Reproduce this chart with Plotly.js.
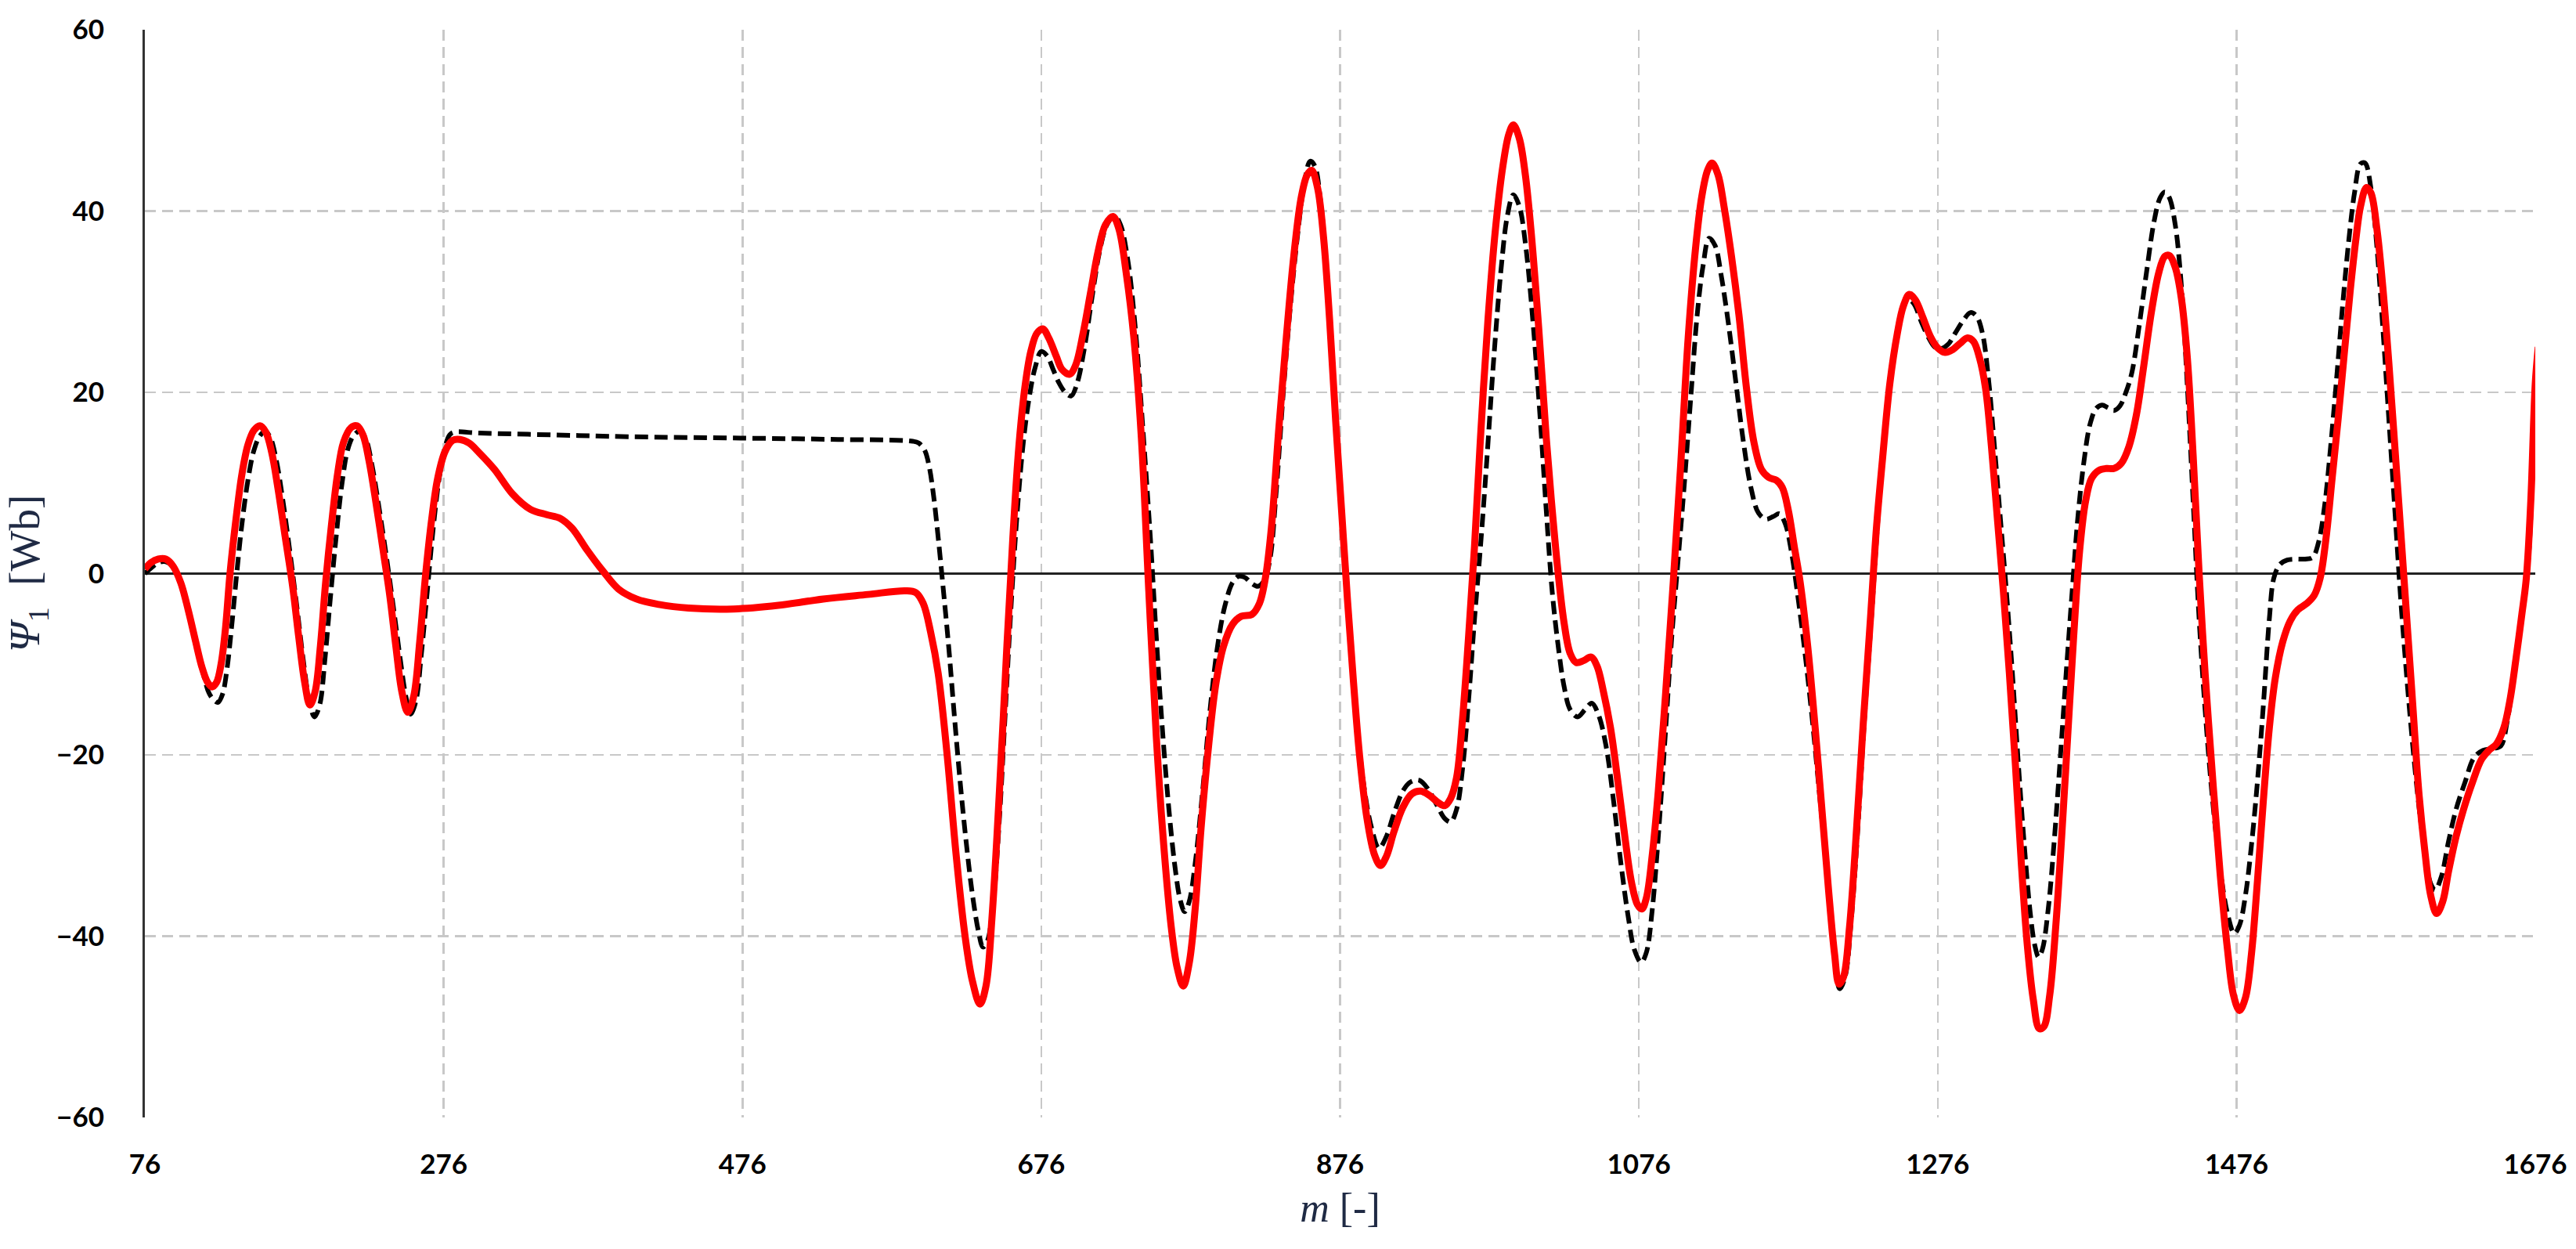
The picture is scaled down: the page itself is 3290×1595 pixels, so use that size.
<!DOCTYPE html>
<html>
<head>
<meta charset="utf-8">
<script src="https://cdn.plot.ly/plotly-3.0.1.min.js"></script>
<style>
  html, body { margin: 0; padding: 0; background: #fff; }
  #chart { width: 3290px; height: 1595px; }
</style>
</head>
<body>
<div id="chart"></div>
<script>
// red solid curve: sample index m and flux psi [Wb]
const mRed = [76, 80, 85, 90, 95, 100, 105, 110, 114, 118, 121, 124, 127, 130, 133, 137, 141, 145, 149, 153,
  157, 161, 165, 170, 175, 179, 183, 186.5, 190, 193.5, 197, 201, 205, 209, 214, 218, 222, 226, 231, 236,
  240, 244, 248, 252, 256, 260, 264, 268, 272, 277, 282, 287, 293, 300, 310, 322, 334, 345, 354, 362,
  372, 383, 393, 405, 420, 440, 470, 500, 530, 560, 585, 592, 597, 602, 607, 613, 619, 625, 630, 635,
  639, 643, 648, 653, 657, 661, 665, 669, 673, 677, 681, 686, 690, 695, 699, 704, 709, 714, 719, 724,
  728, 733, 738, 743, 748, 753, 758, 763, 767, 771, 775, 779, 783, 788, 793, 798, 804, 810, 817, 822,
  826, 830, 835, 840, 845, 850, 854, 857, 861, 865, 869, 873, 877, 881, 885, 889, 894, 899, 903, 907,
  912, 918, 924, 930, 936, 942, 946, 950, 954, 958, 962, 966, 970, 975, 980, 985, 989, 992, 996, 1000,
  1004, 1009, 1014, 1018, 1022, 1026, 1030, 1034, 1039, 1044, 1048, 1052, 1057, 1062, 1067, 1071, 1075, 1078, 1081, 1085,
  1089, 1094, 1099, 1104, 1109, 1114, 1118, 1122, 1125, 1129, 1133, 1138, 1143, 1148, 1153, 1158, 1163, 1168, 1172, 1176,
  1180, 1184, 1189, 1194, 1199, 1203, 1207, 1210, 1213, 1217, 1221, 1226, 1231, 1235, 1239, 1244, 1249, 1253, 1257, 1261,
  1266, 1271, 1276, 1281, 1286, 1291, 1296, 1300, 1304, 1308, 1312, 1316, 1320, 1324, 1328, 1332, 1336, 1340, 1344, 1347,
  1351, 1355, 1359, 1363, 1367, 1371, 1375, 1379, 1384, 1389, 1394, 1399, 1404, 1409, 1414, 1419, 1424, 1428, 1431, 1435,
  1439, 1443, 1447, 1451, 1455, 1460, 1465, 1470, 1474, 1478, 1482, 1486, 1490, 1494, 1498, 1502, 1507, 1512, 1517, 1523,
  1528, 1532, 1536, 1540, 1544, 1548, 1552, 1556, 1559, 1563, 1566, 1570, 1574, 1578, 1582, 1586, 1590, 1594, 1598, 1602,
  1606, 1610, 1614, 1618, 1623, 1628, 1634, 1640, 1645, 1650, 1655, 1659, 1663, 1667, 1670, 1673, 1676, 1678];
const psiRed = [0.5, 1.2, 1.6, 1.6, 0.8, -1, -4, -7.5, -10.2, -12, -12.5, -12, -10, -6, 0, 6, 11, 14.2, 15.8, 16.3,
  15.6, 13.3, 9.5, 4, -1.5, -7, -12, -14.5, -13, -8, -1, 5.5, 11, 14.5, 16.1, 16.3, 15.3, 12.5, 7.5, 2,
  -2.5, -8, -13, -15.3, -13.5, -7.5, 0, 6, 10.5, 13.5, 14.7, 14.8, 14.4, 13.3, 11.5, 8.8, 7.1, 6.5, 6.1, 5.0,
  2.6, 0.2, -1.7, -2.8, -3.4, -3.8, -3.9, -3.5, -2.8, -2.3, -1.9, -2.1, -3.3, -6.5, -11, -20, -31, -40, -45, -47.5,
  -45.5, -38, -24, -8, 4, 14, 20.5, 24.5, 26.5, 27, 26, 24, 22.5, 22, 23, 26.5, 31, 35.5, 38.5, 39.4,
  38, 33, 26, 15, -2, -18, -30, -39, -43.5, -45.5, -43, -37, -28, -19, -12, -8, -5.6, -4.7, -4.5, -3.3,
  -0.5, 5, 16, 26, 35, 41.5, 44, 44.5, 42.5, 37, 28, 17, 7, -3, -12, -20, -27, -31, -32.2, -31.2,
  -28.5, -25.8, -24.3, -24, -24.5, -25.3, -25.6, -24.8, -22.5, -16, -7, 3, 15, 28, 38, 45, 48.5, 49.5, 48, 44,
  37.5, 27, 15, 7, 0, -5.5, -8.8, -9.8, -9.6, -9.2, -10.2, -12.8, -17, -23, -29.5, -34, -36.5, -37, -35.8, -31,
  -24, -13, -1, 12, 26, 36, 41.5, 44.5, 45.3, 44, 40.5, 35, 28.5, 20.5, 14.5, 11.5, 10.6, 10.3, 9.5, 7,
  3, -1, -8, -17, -27, -35, -42, -45.3, -44.5, -39, -30, -17, -5, 5, 12.5, 21, 26.5, 29.5, 30.8, 30.2,
  28.3, 26.2, 24.9, 24.4, 24.7, 25.4, 26, 25.6, 23.8, 20.5, 14, 6, -2, -11, -21, -32, -41, -47, -50.2, -50,
  -46.5, -39, -29, -18, -7, 2.5, 8, 10.5, 11.4, 11.6, 11.6, 12.2, 14, 17.5, 23, 28.8, 33.2, 35, 35.1, 33.8,
  30.5, 24, 13, 0, -11, -22.5, -33, -41.5, -46.5, -48.2, -46.8, -42, -34, -25, -17, -11.5, -7.5, -5.2, -4, -3.3,
  -2.4, -0.5, 4, 10.5, 17, 24, 31, 37, 40.5, 42.6, 42, 38, 31.5, 23.2, 14, 4.5, -5, -14.5, -24, -30.5,
  -35.5, -37.5, -36.2, -32.8, -29, -26, -23, -20.5, -19.5, -18.8, -17, -14, -9.5, -4.5, -0.5, 8, 21, 25];

// black dashed curve
const mBlack = [76, 80, 85, 90, 95, 100, 105, 110, 115, 119, 122.5, 125, 128, 131, 134, 137.5, 141, 145, 149, 153,
  156.5, 160, 164, 168, 173, 178, 182, 186, 189.5, 193, 196.5, 200, 204, 208, 212, 216, 220, 224, 228, 233,
  238, 243, 247, 251, 254, 257.5, 261, 265, 269, 273, 277, 280, 283, 300, 350, 400, 475, 540, 590, 594,
  598, 601, 604, 607, 610, 614, 618, 622, 626, 630, 634, 637, 640, 644, 648, 652, 656, 660, 664, 668,
  672, 676, 680, 684, 688, 692, 696, 700, 705, 710, 715, 720, 725, 729, 734, 739, 744, 749, 753, 757,
  762, 766, 769, 772, 775, 779, 784, 789, 794, 799, 804, 808, 812, 817, 821, 825, 829, 833, 838, 843,
  848, 852, 856, 859, 863, 867, 871, 875, 879, 883, 887, 892, 897, 902, 907, 912, 918, 923, 929, 935,
  941, 946, 950, 954, 958, 962, 966, 970, 974, 979, 984, 988, 992, 996, 1000, 1005, 1010, 1014, 1018, 1022,
  1026, 1030, 1035, 1040, 1044.5, 1049, 1054, 1059, 1064, 1069, 1073, 1077.5, 1081, 1085, 1089, 1094, 1098, 1102, 1106, 1111,
  1115, 1119, 1123, 1127, 1131, 1136, 1141, 1146, 1151, 1156, 1161, 1166, 1170, 1174, 1178, 1182, 1187, 1192, 1197, 1202,
  1206, 1210.5, 1214, 1218, 1222, 1227, 1232, 1236, 1241, 1246, 1251, 1256, 1260, 1265, 1270, 1274, 1278, 1283, 1288, 1293,
  1298, 1302, 1306, 1310, 1314, 1318, 1322, 1326, 1330, 1334, 1338, 1341, 1343.5, 1346, 1350, 1354, 1358, 1362, 1366, 1370,
  1374, 1378, 1382, 1386, 1390, 1394, 1398, 1402, 1406, 1411, 1416, 1421, 1425, 1428, 1431, 1435, 1439, 1443, 1447, 1451,
  1455, 1460, 1465, 1470, 1474.5, 1478, 1482, 1486, 1490, 1494, 1498, 1501, 1505, 1510, 1516, 1522, 1527, 1531, 1535, 1539,
  1543, 1547, 1551, 1555, 1559, 1562, 1566, 1570, 1574, 1578, 1582, 1586, 1590, 1594, 1598, 1602, 1606, 1609, 1613, 1618,
  1623, 1629, 1635, 1641, 1648, 1653, 1657, 1661, 1665, 1669, 1672, 1675, 1678];
const psiBlack = [0, 0.6, 1.2, 1.3, 0.7, -1.2, -4, -7.8, -11, -13.2, -14, -14.2, -13.3, -10.5, -6, 0, 5.5, 10.3, 13.6, 15.2,
  15.7, 15, 12.5, 8.5, 2.5, -4, -9.5, -14, -15.8, -14.5, -9.5, -3, 4, 10, 13.8, 15.3, 15.7, 14.8, 12, 7,
  1.5, -4.5, -9.5, -13.8, -15.5, -14, -9, -2, 5, 10.5, 14, 15.3, 15.6, 15.5, 15.3, 15.1, 14.95, 14.8, 14.6, 14.4,
  13.6, 11.8, 8.5, 4, -1, -8, -16, -23.5, -30, -35.5, -39.5, -41.2, -40.5, -36, -27, -15, -3, 7, 14.5, 19.5,
  22.8, 24.5, 24, 22.5, 21, 20, 19.6, 21, 25, 30.5, 35.5, 38.5, 39.5, 38.5, 34.5, 27, 16, 4, -7, -17,
  -27, -33, -36, -37.3, -36.2, -32, -24, -15, -8, -3.5, -1, -0.3, -0.4, -1.1, -1.4, -0.8, 1.5, 8.5, 20, 30,
  38, 43, 45.5, 45, 41, 33.5, 23, 12, 1, -8, -16, -23.5, -28, -30.3, -29, -26.5, -24, -23, -22.8, -23.8,
  -25.6, -27, -27.4, -26, -21.5, -14, -5, 3, 12, 24, 34, 39.5, 41.8, 40.5, 36.5, 28, 17, 7, -2, -8,
  -12.5, -15, -15.8, -15, -14.3, -15.6, -19, -25, -32, -38, -41.5, -42.9, -41.8, -37, -29, -17, -7, 1, 9, 20,
  28.5, 34, 37, 36.2, 33, 27.5, 21, 14.5, 9.5, 6.7, 6, 6.3, 6.6, 5.5, 2.5, -2, -8.5, -16, -24.5, -33,
  -41, -45.8, -44.5, -38.5, -29.5, -16, -4, 6, 16, 23.5, 28, 30.3, 29.8, 27.8, 26, 25, 24.8, 25.3, 26.6, 27.9,
  28.8, 28.4, 26.5, 21.5, 14, 6, -2, -11, -21, -30, -37.5, -41, -42.3, -41.5, -37, -29.5, -20.5, -11, -2, 6.5,
  12.5, 16.5, 18.2, 18.6, 18.3, 18, 18.5, 20, 22.2, 27.5, 33.5, 39, 41.5, 42.1, 41.5, 38.5, 32, 21, 8, -5,
  -15, -25, -32.5, -37.5, -39.7, -38.8, -35.5, -30, -23, -14.5, -5, -0.5, 1, 1.5, 1.6, 1.6, 1.8, 3.5, 7.5, 14,
  21.5, 29.5, 36.5, 42, 45.2, 45.3, 42.5, 36, 27, 17, 7, -3, -11.5, -19, -25.5, -30.5, -34.2, -34.9, -33.5, -29.5,
  -26, -23, -20.3, -19.5, -19.3, -19, -16.5, -12, -7, -2.5, 3, 15, 25];

const mTicks = [76, 276, 476, 676, 876, 1076, 1276, 1476, 1676];
const psiTicks = [-60, -40, -20, 0, 20, 40, 60];

const tickFont = { family: "Lato, 'Open Sans', sans-serif", size: 35, color: "#000", weight: 700 };
const titleColor = "#1f2a44";

const traces = [
  {
    type: "scatter",
    mode: "lines",
    x: mBlack,
    y: psiBlack,
    line: { color: "#000", width: 6, dash: "17px,8px", shape: "spline", smoothing: 1 },
    showlegend: false,
    hoverinfo: "skip"
  },
  {
    type: "scatter",
    mode: "lines",
    x: mRed,
    y: psiRed,
    line: { color: "#ff0000", width: 9, shape: "spline", smoothing: 1 },
    showlegend: false,
    hoverinfo: "skip"
  }
];

const layout = {
  width: 3290,
  height: 1595,
  paper_bgcolor: "#fff",
  plot_bgcolor: "#fff",
  margin: { l: 185, r: 52, t: 38, b: 168 },
  xaxis: {
    range: [76, 1676],
    tickvals: mTicks,
    ticktext: mTicks.map(String),
    tickfont: tickFont,
    ticks: "",
    ticklabelstandoff: 36,
    showgrid: true,
    gridcolor: "#c8c8c8",
    gridwidth: 2.5,
    griddash: "14px,8px",
    zeroline: false,
    showline: false,
    title: {
      text: "<i>m</i> [-]",
      font: { family: "'Liberation Serif', 'DejaVu Serif', serif", size: 52, color: titleColor },
      standoff: 18
    }
  },
  yaxis: {
    range: [-60, 60],
    tickvals: psiTicks,
    tickfont: tickFont,
    ticks: "",
    ticklabelstandoff: 42,
    showgrid: true,
    gridcolor: "#c8c8c8",
    gridwidth: 2.5,
    griddash: "14px,8px",
    zeroline: true,
    zerolinecolor: "#222",
    zerolinewidth: 2.5,
    showline: true,
    linecolor: "#333",
    linewidth: 3,
    title: {
      text: "<i>Ψ</i><sub>1</sub>  [Wb]",
      font: { family: "'Liberation Serif', 'DejaVu Serif', serif", size: 55, color: titleColor },
      standoff: 4
    }
  }
};

Plotly.newPlot("chart", traces, layout, { staticPlot: true, displayModeBar: false });
</script>
</body>
</html>
